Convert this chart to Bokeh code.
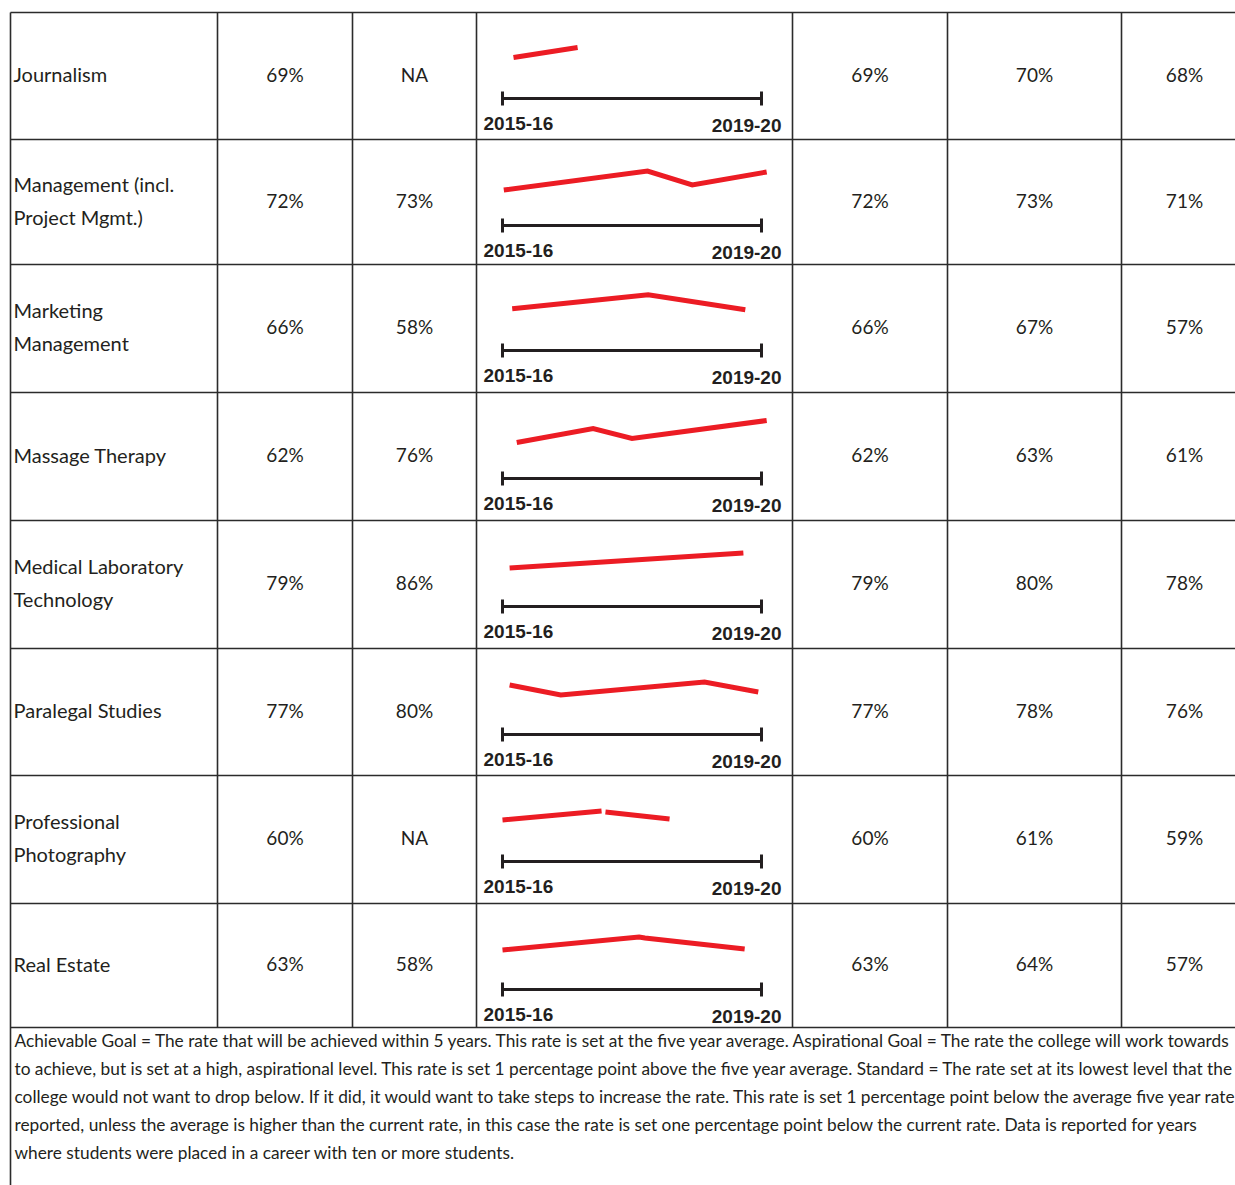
import math
from bokeh.plotting import figure
from bokeh.models import Range1d
from bokeh.embed import file_html
from bokeh.resources import INLINE
from bokeh.core.properties import value

# ---------------- data ----------------
programs = [
    ["Journalism"],
    ["Management (incl.", "Project Mgmt.)"],
    ["Marketing", "Management"],
    ["Massage Therapy"],
    ["Medical Laboratory", "Technology"],
    ["Paralegal Studies"],
    ["Professional", "Photography"],
    ["Real Estate"],
]
rate_current = ["69%", "72%", "66%", "62%", "79%", "77%", "60%", "63%"]
rate_state = ["NA", "73%", "58%", "76%", "86%", "80%", "NA", "58%"]
achievable = [69, 72, 66, 62, 79, 77, 60, 63]
aspirational = [70, 73, 67, 63, 80, 78, 61, 64]
standard = [68, 71, 57, 61, 78, 76, 59, 57]

years = ["2015-16", "2016-17", "2017-18", "2018-19", "2019-20"]
nan = float("nan")
# sparkline points: position on the year axis (0 = 2015-16, 4 = 2019-20) and rate (%)
spark_t = [
    [0.17, 1.16],
    [0.02, 2.24, 2.93, 4.08],
    [0.15, 2.25, 3.75],
    [0.22, 1.40, 2.00, 4.08],
    [0.11, 3.72],
    [0.11, 0.90, 3.12, 3.95],
    [0.00, 1.53, nan, 1.59, 2.58],
    [0.00, 2.11, 2.20, 3.74],
]
spark_v = [
    [68.0, 70.0],
    [69.9, 73.7, 70.9, 73.5],
    [65.1, 67.9, 64.9],
    [60.0, 62.8, 60.8, 64.4],
    [77.5, 80.5],
    [77.7, 75.7, 78.3, 76.3],
    [59.1, 60.9, nan, 60.7, 59.3],
    [61.7, 64.3, 64.1, 61.9],
]

footnote = [
    "Achievable Goal = The rate that will be achieved within 5 years. This rate is set at the five year average. Aspirational Goal = The rate the college will work towards",
    "to achieve, but is set at a high, aspirational level. This rate is set 1 percentage point above the five year average. Standard = The rate set at its lowest level that the",
    "college would not want to drop below. If it did, it would want to take steps to increase the rate. This rate is set 1 percentage point below the average five year rate",
    "reported, unless the average is higher than the current rate, in this case the rate is set one percentage point below the current rate.  Data is reported for years",
    "where students were placed in a career with ten or more students.",
]

# ---------------- layout ----------------
W, H = 1235, 1185
row_edges = [12, 139, 264, 392, 520, 648, 775, 903, 1027]
col_edges = [10, 217, 352, 476, 792, 947, 1121, 1247]
LINE = "#2b2b2b"
TXT = "#231f20"
RED = "#ec1c24"
FONT = value("Lato")

p = figure(width=W, height=H, x_range=Range1d(0, W), y_range=Range1d(H, 0),
           output_backend="svg", toolbar_location=None, min_border=0,
           x_axis_location=None, y_axis_location=None)
p.grid.visible = False
p.outline_line_color = None
p.background_fill_color = "white"

# grid lines
hx0, hx1, hy = [], [], []
for y in row_edges:
    hx0.append(col_edges[0]); hx1.append(1240); hy.append(y)
p.segment(x0=hx0, y0=hy, x1=hx1, y1=hy, line_color=LINE, line_width=1.6)
vx, vy0, vy1 = [], [], []
for i, x in enumerate(col_edges[:-1]):
    vx.append(x); vy0.append(row_edges[0])
    vy1.append(1190 if i == 0 else row_edges[-1])
p.segment(x0=vx, y0=vy0, x1=vx, y1=vy1, line_color=LINE, line_width=1.6)

# cell texts
nx, ny, nt = [], [], []
cx, cy, ct = [], [], []
centers = [(col_edges[1] + col_edges[2]) / 2, (col_edges[2] + col_edges[3]) / 2,
           (col_edges[4] + col_edges[5]) / 2, (col_edges[5] + col_edges[6]) / 2,
           (col_edges[6] + col_edges[7]) / 2]
for i in range(len(programs)):
    top, bot = row_edges[i], row_edges[i + 1]
    mid = (top + bot) / 2 - 2
    lines = programs[i]
    for k, s in enumerate(lines):
        nx.append(13)
        ny.append(mid + (k - (len(lines) - 1) / 2) * 33)
        nt.append(s)
    vals = [rate_current[i], rate_state[i], f"{achievable[i]}%", f"{aspirational[i]}%", f"{standard[i]}%"]
    for c, v in zip(centers, vals):
        cx.append(c); cy.append(mid); ct.append(v)
p.text(x=nx, y=ny, text=nt, text_font=FONT, text_font_size="20px", text_color=TXT,
       text_align="left", text_baseline="middle")
p.text(x=cx, y=cy, text=ct, text_font=FONT, text_font_size="19px", text_color=TXT,
       text_align="center", text_baseline="middle")

# sparklines
SPAN = 259
PX_PER_PT = 5.0
ax_x0, ax_x1, ax_y, tick_x, tick_y0, tick_y1 = [], [], [], [], [], []
lx, ly, lt, rx, ry, rt = [], [], [], [], [], []
for i in range(len(programs)):
    top = row_edges[i]
    axis_y = top + 86
    xl = 502
    xr = xl + SPAN
    ax_x0.append(xl); ax_x1.append(xr); ax_y.append(axis_y)
    for t in (xl, xr):
        tick_x.append(t); tick_y0.append(axis_y - 7); tick_y1.append(axis_y + 7)
    lx.append(xl - 19); ly.append(axis_y + 25); lt.append(years[0])
    rx.append(xr + 20); ry.append(axis_y + 27); rt.append(years[-1])
    vals = [v for v in spark_v[i] if not math.isnan(v)]
    mean = sum(vals) / len(vals)
    xs = [xl + t / 4 * SPAN if not math.isnan(t) else nan for t in spark_t[i]]
    ys = [axis_y - 46 - (v - mean) * PX_PER_PT if not math.isnan(v) else nan for v in spark_v[i]]
    p.line(x=xs, y=ys, line_color=RED, line_width=5, line_join="miter")

p.segment(x0=ax_x0, y0=ax_y, x1=ax_x1, y1=ax_y, line_color=TXT, line_width=3)
p.segment(x0=tick_x, y0=tick_y0, x1=tick_x, y1=tick_y1, line_color=TXT, line_width=3)
p.text(x=lx, y=ly, text=lt, text_font=value("Liberation Sans"), text_font_style="bold",
       text_font_size="19px", text_color=TXT, text_align="left", text_baseline="middle")
p.text(x=rx, y=ry, text=rt, text_font=value("Liberation Sans"), text_font_style="bold",
       text_font_size="19px", text_color=TXT, text_align="right", text_baseline="middle")

# footnote
fy = [1040 + k * 28 for k in range(len(footnote))]
p.text(x=[14] * len(footnote), y=fy, text=footnote, text_font=FONT, text_font_size="17.3px",
       text_color=TXT, text_align="left", text_baseline="middle")

open("out.html", "w").write(file_html(p, INLINE))
